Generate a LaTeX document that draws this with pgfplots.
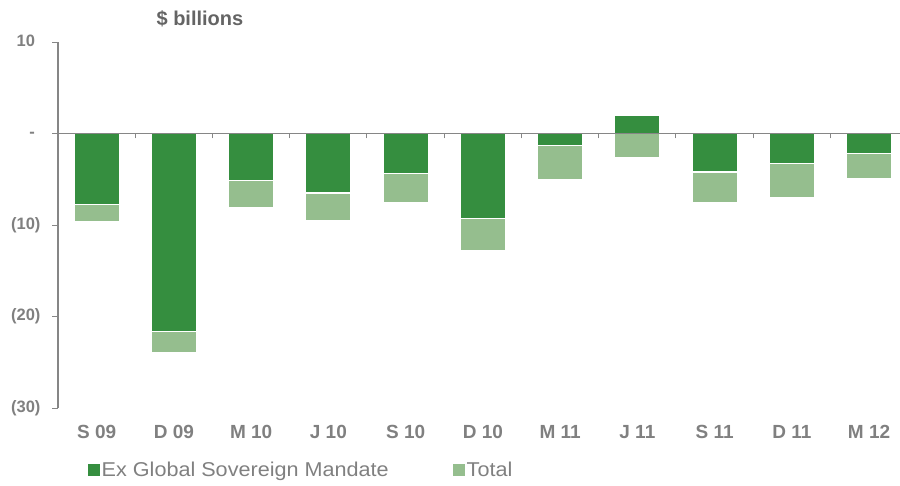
\documentclass[border=0pt]{standalone}
\usepackage{pgfplots}
\pgfplotsset{compat=1.18}
\usepackage{fontspec}
\setmainfont{Liberation Sans}
\newfontfamily\legfont[FakeStretch=1.08]{Liberation Sans}
\definecolor{dk}{RGB}{53,142,63}
\definecolor{lt}{RGB}{149,190,142}
\definecolor{txt}{RGB}{128,128,128}
\definecolor{ttl}{RGB}{100,100,100}
\definecolor{ax}{RGB}{134,134,134}
\begin{document}
\begin{tikzpicture}
\begin{axis}[
  anchor=south west, at={(0,0)},
  scale only axis, width=842pt, height=366pt,
  xmin=-0.5, xmax=10.4, ymin=-30, ymax=10,
  axis y line*=left,
  axis x line*=bottom,
  x axis line style={draw=none},
  y axis line style={draw=ax, line width=1.5pt},
  xtick={0,...,10},
  xticklabels={S 09,D 09,M 10,J 10,S 10,D 10,M 11,J 11,S 11,D 11,M 12},
  xtick style={draw=none},
  ytick={-30,-20,-10,0,10},
  yticklabels={(30),(20),(10),-\phantom{)},10\phantom{)}},
  ytick style={draw=ax, line width=1pt},
  tick align=outside,
  major tick length=6pt,
  xticklabel style={font=\fontsize{19}{22}\selectfont\bfseries, text=txt, yshift=-8pt},
  yticklabel style={font=\fontsize{16.5}{19}\selectfont\bfseries, text=txt, xshift=-8pt},
  /pgf/number format/assume math mode=true,
  title={\$ billions},
  title style={at={(axis description cs:0.1686,1)}, anchor=center, yshift=17pt, font=\fontsize{20}{24}\selectfont\bfseries, text=ttl},
  ybar,
  legend style={at={(axis description cs:0.0315,-0.17)}, anchor=west, draw=none, fill=none,
    legend columns=2, font=\legfont\fontsize{20}{23}\selectfont, text=txt,
    /tikz/every even column/.append style={column sep=62pt}},
  legend image code/.code={\path[#1,draw=none] (0pt,-6pt) rectangle (12pt,6pt);},
]
\addlegendimage{fill=dk}
\addlegendentry{Ex Global Sovereign Mandate}
\addplot[bar width=45pt, bar shift=0pt, fill=lt, draw=white, line width=1.2pt] coordinates {
(0,-9.65) (1,-23.9) (2,-8.05) (3,-9.5) (4,-7.6) (5,-12.8) (6,-5.0) (7,-2.65) (8,-7.5) (9,-7.0) (10,-4.95)};
\addlegendentry{Total}
\addplot[bar width=45pt, bar shift=0pt, fill=dk, draw=white, line width=1.2pt, forget plot] coordinates {
(0,-7.8) (1,-21.6) (2,-5.15) (3,-6.5) (4,-4.35) (5,-9.3) (6,-1.35) (7,2.0) (8,-4.2) (9,-3.25) (10,-2.15)};
\end{axis}
\begin{axis}[
  anchor=south west, at={(0,0)},
  scale only axis, width=842pt, height=366pt,
  xmin=-0.5, xmax=10.4, ymin=-30, ymax=10,
  axis y line=none,
  axis x line*=middle,
  x axis line style={draw=ax, line width=1.5pt},
  xtick={0.5,1.5,...,9.5},
  xticklabels={},
  xtick style={draw=ax, line width=1pt, yshift=-2.5pt},
  major tick length=5pt,
  tick align=center,
]
\end{axis}
\pgfresetboundingbox
\path (-58pt,-77pt) rectangle (842pt,408pt);
\end{tikzpicture}
\end{document}
